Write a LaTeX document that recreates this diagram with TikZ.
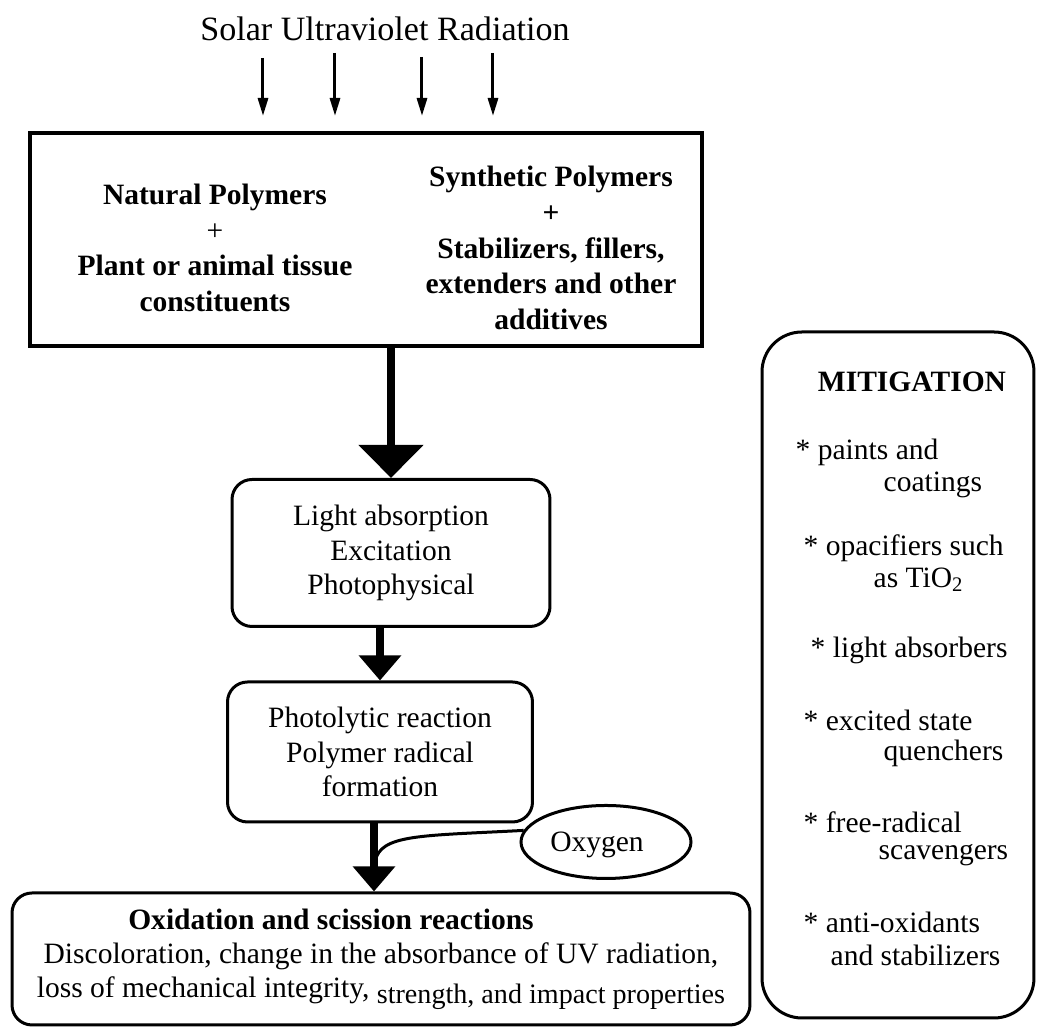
\documentclass[tikz,border=0pt]{standalone}
\usepackage{fontspec}
\setmainfont{Liberation Serif}
\usetikzlibrary{arrows.meta, positioning, shapes.geometric}

\begin{document}
\begin{tikzpicture}[
  x=0.1mm, y=-0.1mm,
  every node/.style={font=\fontsize{8.4}{9.8}\selectfont},
  outerbox/.style={draw, line width=0.4mm, minimum width=67.2mm, minimum height=21.3mm},
  stepbox/.style={draw, line width=0.3mm, rounded corners=2mm, align=center},
  boldtext/.style={align=center, font=\fontsize{8.4}{10.2}\selectfont\bfseries},
  item/.style={anchor=west, inner sep=0pt},
  uvarrow/.style={line width=0.3mm, -{Triangle[width=1mm, length=1.8mm]}},
  fatarrow/.style={line width=0.85mm, -{Triangle[width=6.3mm, length=3.3mm]}},
  midarrow/.style={line width=0.75mm, -{Triangle[width=4.1mm, length=2.5mm]}},
]
  \useasboundingbox (0,0) rectangle (1037,1028);

  \node[font=\fontsize{9.7}{11}\selectfont] (sun) at (385,29) {Solar Ultraviolet Radiation};
  \foreach \x/\t [count=\i] in {263/58, 335/53, 422/57, 493/53} {
    \coordinate (uvs\i) at (\x,\t);
    \coordinate (uve\i) at (\x,116);
    \draw[uvarrow] (uvs\i) -- (uve\i);
  }

  \node[outerbox] (poly) at (366,240) {};
  \node[boldtext] (natural) at (215,248) {Natural Polymers\\{\mdseries +}\\Plant or animal tissue\\constituents};
  \node[boldtext] (synthetic) at (551,248) {Synthetic Polymers\\+\\Stabilizers, fillers,\\extenders and other\\additives};

  \node[stepbox, minimum width=31.8mm, minimum height=14.7mm] (light) at (391,553) {Light absorption\\Excitation\\Photophysical};
  \node[stepbox, minimum width=30.5mm, minimum height=14mm] (photo) at (380,752) {Photolytic reaction\\Polymer radical\\formation};
  \node[stepbox, minimum width=73.8mm, minimum height=13.2mm] (oxid) at (381,959)
    {\textbf{Oxidation and scission reactions}\hspace*{10mm}\\
     Discoloration, change in the absorbance of UV radiation,\\
     loss of mechanical integrity, \raisebox{-1.5pt}{\fontsize{8}{9.8}\selectfont strength, and impact properties}};
  \node[draw, ellipse, line width=0.3mm, minimum width=17mm, minimum height=7.3mm, inner sep=0pt] (oxy) at (606,842) {};
  \node (oxytext) at (597,845) {Oxygen};

  \draw[fatarrow] (poly.south -| light.north) -- (light.north);
  \draw[midarrow] (light.south -| photo.north) -- (photo.north);
  \draw[midarrow] ([xshift=-0.6mm]photo.south) -- ([xshift=-0.6mm]photo.south |- oxid.north);
  \coordinate (join) at (375,862);
  \draw[line width=0.3mm] (oxy.172) .. controls (420,836) and (380,834) .. (join);

  \node[draw, line width=0.3mm, rounded corners=4mm, minimum width=27.2mm, minimum height=68.6mm] (mitig) at (898,675) {};
  \node[boldtext] (mtitle) at (912,382) {MITIGATION};
  \node[item] (m1) at (795,452) {* paints and};
  \node[item] (m1b) at (883,485) {coatings};
  \node[item] (m2) at (803,548) {* opacifiers such};
  \node[item] (m2b) at (873,580) {as TiO\textsubscript{2}};
  \node[item] (m3) at (810,650) {* light absorbers};
  \node[item] (m4) at (803,720) {* excited state};
  \node[item] (m4b) at (883,753) {quenchers};
  \node[item] (m5) at (803,822) {* free-radical};
  \node[item] (m5b) at (878,855) {scavengers};
  \node[item] (m6) at (803,922) {* anti-oxidants};
  \node[item] (m6b) at (830,955) {and stabilizers};
\end{tikzpicture}
\end{document}
